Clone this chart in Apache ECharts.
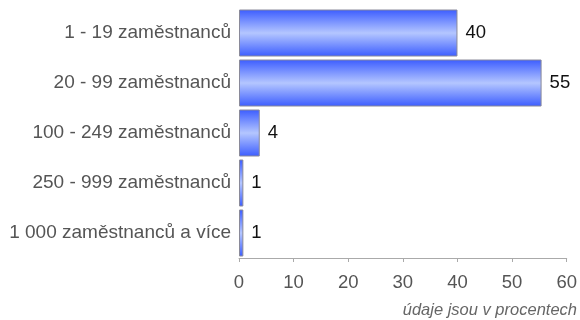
<!DOCTYPE html>
<html><head><meta charset="utf-8">
<script src="https://cdn.jsdelivr.net/npm/echarts@6/dist/echarts.min.js"></script>
<style>html,body{margin:0;padding:0;background:#fff}#c{width:580px;height:320px}</style>
</head><body><div id="c"></div>
<script>
var categories = ["1 - 19 zaměstnanců", "20 - 99 zaměstnanců", "100 - 249 zaměstnanců", "250 - 999 zaměstnanců", "1 000 zaměstnanců a více"];
var values = [40, 55.4, 3.8, 0.8, 0.8];
var xTicks = [0, 10, 20, 30, 40, 50, 60];
var note = "údaje jsou v procentech";

var FF = '"Liberation Sans", Arial, sans-serif';
var chart = echarts.init(document.getElementById('c'), null, {renderer: 'canvas'});
chart.setOption({
  animation: false,
  textStyle: {fontFamily: FF},
  grid: {left: 239, right: 12, top: 8, bottom: 62, containLabel: false},
  xAxis: {
    type: 'value', min: xTicks[0], max: xTicks[xTicks.length - 1], interval: 10,
    splitLine: {show: false},
    axisLine: {show: true, lineStyle: {color: '#aaaaaa', width: 1}},
    axisTick: {show: true, length: 4, lineStyle: {color: '#aaaaaa'}},
    axisLabel: {color: '#555555', fontSize: 18.5, margin: 15, fontFamily: FF}
  },
  yAxis: {
    type: 'category', data: categories, inverse: true,
    axisLine: {show: false},
    axisTick: {show: false},
    axisLabel: {color: '#555555', fontSize: 19, margin: 8, fontFamily: FF}
  },
  graphic: [{
    type: 'text', right: 3, top: 302,
    style: {text: note, fill: '#666666', font: 'italic 16.5px ' + FF}
  }],
  series: [{
    type: 'bar', data: values, barCategoryGap: '6%',
    itemStyle: {
      borderColor: '#8a8a9a', borderWidth: 1,
      color: new echarts.graphic.LinearGradient(0, 0, 0, 1, [
        {offset: 0, color: '#3b5cff'},
        {offset: 0.5, color: '#b4c6ff'},
        {offset: 1, color: '#3b5cff'}
      ])
    },
    label: {
      show: true, position: 'right', distance: 8, color: '#111111', fontSize: 18.5,
      fontFamily: FF,
      formatter: function (p) { return Math.round(p.value); }
    }
  }]
});
</script></body></html>
